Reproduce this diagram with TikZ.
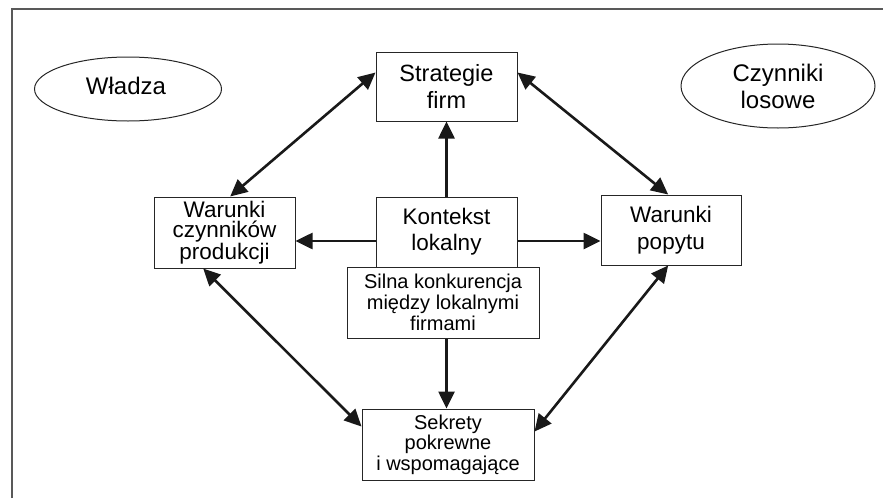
\documentclass[tikz,border=0pt]{standalone}
\usepackage{fontspec}
\setmainfont{Liberation Sans}
\usetikzlibrary{arrows.meta,calc,shapes.geometric}
\begin{document}
\begin{tikzpicture}[x=1pt,y=-1pt,
  box/.style={draw=black!85, line width=1pt, rectangle, inner sep=0pt, align=center},
  oval/.style={draw=black!85, line width=1pt, ellipse, inner sep=0pt, align=center},
  link/.style={draw=black!90, line width=2.6pt, {Triangle[length=17pt,width=16pt]}-{Triangle[length=17pt,width=16pt]}},
  flow/.style={draw=black!90, line width=2.6pt, -{Triangle[length=17pt,width=16pt]}}]
  \useasboundingbox (0,0) rectangle (883,498);
  % outer frame (top and left edges)
  \draw[black!65, line width=1.3pt] (12,498) -- (12,9) -- (883,9);

  % ellipses
  \node[oval, minimum width=187pt, minimum height=64pt] (wladza) at (128,89) {};
  \node[font=\fontsize{24}{28}\selectfont] (wladzatxt) at (126,86) {Władza};
  \node[oval, minimum width=194pt, minimum height=84pt, font=\fontsize{24}{27}\selectfont] (losowe) at (778,86) {Czynniki\\losowe};

  % boxes
  \node[box, minimum width=141pt, minimum height=69pt, font=\fontsize{23.5}{27}\selectfont] (strat) at (446.5,86.5) {Strategie\\firm};
  \node[box, minimum width=141pt, minimum height=71pt, font=\fontsize{22.5}{20.5}\selectfont] (wcp) at (224.5,232.5) {Warunki\\czynników\\produkcji};
  \node[box, minimum width=141pt, minimum height=70pt, font=\fontsize{22.5}{26}\selectfont] (kont) at (446.5,232) {Kontekst\\lokalny};
  \node[box, minimum width=140pt, minimum height=70pt, font=\fontsize{22.5}{27}\selectfont] (popyt) at (671,230) {Warunki\\popytu};
  \node[box, minimum width=192pt, minimum height=71pt, font=\fontsize{20}{21}\selectfont] (silna) at (443,302.5) {Silna konkurencja\\między lokalnymi\\firmami};
  \node[box, minimum width=172pt, minimum height=71pt, font=\fontsize{20}{20.5}\selectfont] (sekr) at (448,444.5) {Sekrety\\pokrewne\\i wspomagające};

  % two-way links
  \draw[link] ($(strat.north west)!0.3!(strat.south west)$) -- ($(wcp.north west)!0.54!(wcp.north east)$);
  \draw[link] ($(strat.north east)!0.3!(strat.south east)$) -- ($(popyt.north west)!0.48!(popyt.north east)$);
  \draw[link] ($(wcp.south west)!0.35!(wcp.south east)$) -- ($(sekr.north west)!0.25!(sekr.south west)$);
  \draw[link] ($(popyt.south west)!0.48!(popyt.south east)$) -- ($(sekr.north east)!0.32!(sekr.south east)$);

  % outward flows from the local context
  \draw[flow] (kont.north) -- (strat.south);
  \coordinate (kl) at ([yshift=-9pt]kont.west);
  \coordinate (kr) at ([yshift=-9pt]kont.east);
  \draw[flow] (kl) -- (kl -| wcp.east);
  \draw[flow] (kr) -- (kr -| popyt.west);
  \draw[flow] (silna.south -| kont.south) -- (sekr.north -| kont.south);
\end{tikzpicture}
\end{document}
